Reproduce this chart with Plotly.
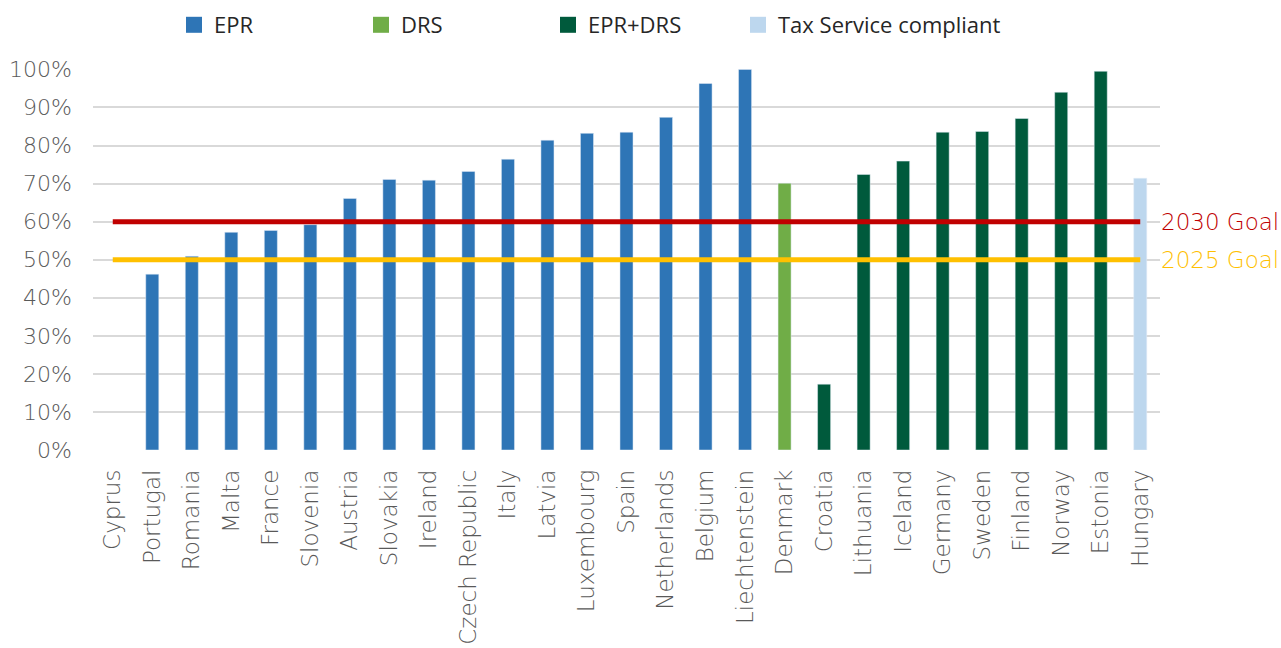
import plotly.graph_objects as go

countries = ["Cyprus", "Portugal", "Romania", "Malta", "France", "Slovenia", "Austria",
             "Slovakia", "Ireland", "Czech Republic", "Italy", "Latvia", "Luxembourg",
             "Spain", "Netherlands", "Belgium", "Liechtenstein", "Denmark", "Croatia",
             "Lithuania", "Iceland", "Germany", "Sweden", "Finland", "Norway", "Estonia",
             "Hungary"]

epr = [None, 0.462, 0.509, 0.572, 0.577, 0.592, 0.661, 0.711, 0.709, 0.732, 0.764,
       0.814, 0.832, 0.835, 0.874, 0.963, 1.000, None, None, None, None, None, None,
       None, None, None, None]
drs = [None] * 17 + [0.701] + [None] * 9
epr_drs = [None] * 18 + [0.173, 0.724, 0.759, 0.835, 0.837, 0.871, 0.940, 0.995, None]
tax = [None] * 26 + [0.714]

goal_2030 = [0.60, 0.60]
goal_2025 = [0.50, 0.50]
goal_x = [countries[0], countries[-1]]

series = [
    ("EPR", epr, "#2E75B6"),
    ("DRS", drs, "#70AD47"),
    ("EPR+DRS", epr_drs, "#005A3C"),
    ("Tax Service compliant", tax, "#BDD7EE"),
]

FONT = "DejaVu Sans"
TSIZE = 23
XFONT = dict(family=FONT, size=23, color="#595959", weight=300)
YFONT = dict(family=FONT, size=22, color="#595959", weight=300)

L, R = 93, 121
PW = 1281 - L - R

fig = go.Figure()
for name, vals, col in series:
    fig.add_trace(go.Bar(x=countries, y=vals, name=name, marker_color=col,
                         width=0.33, showlegend=False))

fig.add_trace(go.Scatter(x=goal_x, y=goal_2025, mode="lines", showlegend=False,
                         line=dict(color="#FFC000", width=5)))
fig.add_trace(go.Scatter(x=goal_x, y=goal_2030, mode="lines", showlegend=False,
                         line=dict(color="#C00000", width=5)))

# legend swatches, one legend per entry
legend_px = [174, 361, 548, 738]
legend_ids = ["legend", "legend2", "legend3", "legend4"]
for (name, vals, col), lid in zip(series, legend_ids):
    fig.add_trace(go.Scatter(x=[None], y=[None], mode="markers", name=name,
                             legend=lid,
                             marker=dict(symbol="square", size=16, color=col)))

legend_common = dict(orientation="h", xanchor="left", y=1 - 25 / 648,
                     yref="container", yanchor="middle", itemsizing="trace",
                     bgcolor="rgba(0,0,0,0)",
                     font=dict(family="Open Sans", size=22, color="#262626"))
legend_layout = {}
for lid, px in zip(legend_ids, legend_px):
    legend_layout[lid] = dict(x=(px - L) / PW, **legend_common)

fig.add_annotation(x=1, xref="paper", y=goal_2030[0], yref="y", text="2030 Goal",
                   showarrow=False, xanchor="left", yanchor="middle", xshift=-1,
                   font=dict(family=FONT, size=TSIZE, color="#C00000", weight=300))
fig.add_annotation(x=1, xref="paper", y=goal_2025[0], yref="y", text="2025 Goal",
                   showarrow=False, xanchor="left", yanchor="middle", xshift=-1,
                   font=dict(family=FONT, size=TSIZE, color="#FFC000", weight=300))

fig.update_layout(
    width=1281, height=648,
    margin=dict(l=L, r=R, t=69, b=198, autoexpand=False),
    plot_bgcolor="white", paper_bgcolor="white",
    barmode="overlay",
    font=dict(family=FONT, size=20, color="#595959"),
    xaxis=dict(type="category", tickangle=-90, showgrid=False, ticks="",
               ticklabelstandoff=14, showline=False, automargin=False,
               tickfont=XFONT),
    yaxis=dict(range=[0, 1.001], tickvals=[i / 10 for i in range(11)],
               tickformat=".0%", showgrid=True, gridcolor="#D9D9D9", gridwidth=2,
               zeroline=False, ticks="", ticklabelstandoff=20, automargin=False,
               tickfont=YFONT),
    **legend_layout,
)

fig.write_html("out.html")
